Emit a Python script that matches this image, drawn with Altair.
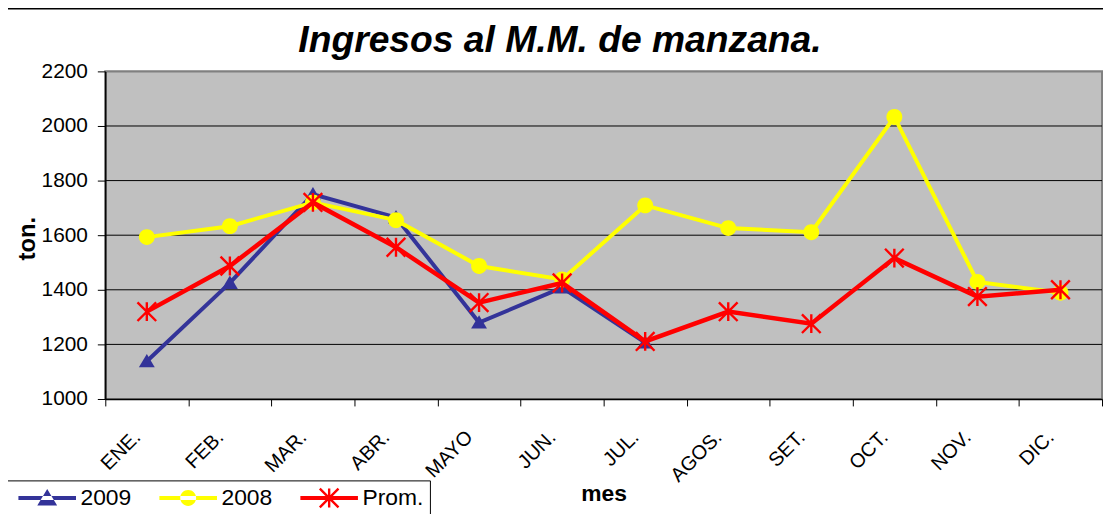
import math
import altair as alt
import pandas as pd

meses = ["ENE.", "FEB.", "MAR.", "ABR.", "MAYO", "JUN.", "JUL.", "AGOS.", "SET.", "OCT.", "NOV.", "DIC."]
v2009 = [1138, 1425, 1750, 1665, 1280, 1408, 1207]
v2008 = [1593, 1633, 1720, 1655, 1487, 1438, 1709, 1626, 1611, 2033, 1429, 1389]
prom = [1320, 1487, 1720, 1556, 1353, 1425, 1211, 1320, 1276, 1516, 1375, 1400]
series = ["2009", "2008", "Prom."]
y_ticks = [1000, 1200, 1400, 1600, 1800, 2000, 2200]
titulo = "Ingresos al M.M. de manzana."

colors = ["#333399", "#FFFF00", "#FF0000"]
widths = [4, 4, 4.5]
FONT = "Liberation Sans, Arial, sans-serif"

rows = []
for s, vals in zip(series, [v2009, v2008, prom]):
    for m, v in zip(meses, vals):
        rows.append({"mes": m, "serie": s, "valor": v})
df = pd.DataFrame(rows)
grid_df = pd.DataFrame({"valor": y_ticks[1:-1]})


# ---- symbol geometry (unit coords; 1 unit = sqrt(size)/2 px) ----
def fmt(v):
    return f"{v:.3f}"


def bar(angle_deg, half_len, half_th):
    a = math.radians(angle_deg)
    dx, dy = math.cos(a), math.sin(a)
    nx, ny = -dy, dx
    pts = [
        (half_len * dx + half_th * nx, half_len * dy + half_th * ny),
        (half_len * dx - half_th * nx, half_len * dy - half_th * ny),
        (-half_len * dx - half_th * nx, -half_len * dy - half_th * ny),
        (-half_len * dx + half_th * nx, -half_len * dy + half_th * ny),
    ]
    return "M" + "L".join(f"{fmt(x)},{fmt(y)}" for x, y in pts) + "Z"


def triangle(hw, top, bottom):
    return f"M0,{fmt(-top)}L{fmt(hw)},{fmt(bottom)}L{fmt(-hw)},{fmt(bottom)}Z"


def circle(r):
    return (f"M{fmt(-r)},0A{fmt(r)},{fmt(r)} 0 1,1 {fmt(r)},0"
            f"A{fmt(r)},{fmt(r)} 0 1,1 {fmt(-r)},0Z")


def asterisk(hl, th):
    return bar(90, hl, th) + bar(45, hl * 1.4, th) + bar(-45, hl * 1.4, th)


# chart markers: size 400 -> 10 px per unit
pt_shapes = [triangle(0.8, 0.74, 0.6), circle(0.8), asterisk(0.95, 0.12)]
# legend markers: symbolSize 400 -> 10 px per unit, line spans 58 px
lline = bar(0, 2.9, 0.2)
leg_shapes = [
    lline + triangle(1.0, 0.9, 0.75),
    lline + circle(0.8),
    lline + asterisk(0.95, 0.12),
]

x_enc = alt.X(
    "mes:N",
    sort=meses,
    scale=alt.Scale(type="band", domain=meses, paddingInner=0, paddingOuter=0),
    axis=alt.Axis(
        title="mes", titleFont=FONT, titleFontSize=23, titleFontWeight="bold",
        titleColor="black", titleX=502, titleY=102, titleBaseline="alphabetic",
        titleAlign="center",
        labelAngle=-45, labelAlign="right", labelBaseline="middle",
        labelFont=FONT, labelFontSize=20, labelColor="black",
        labelPadding=28, labelOffset=-10,
        tickBand="extent", tickColor="black", tickSize=7, domainColor="black",
        domainWidth=1.5, grid=False, zindex=1,
    ),
)
y_enc = alt.Y(
    "valor:Q",
    scale=alt.Scale(domain=[1000, 2200], nice=False, zero=False),
    axis=alt.Axis(
        values=y_ticks, format="d",
        title="ton.", titleFont=FONT, titleFontSize=24,
        titleFontWeight="bold", titleColor="black", titleAngle=-90,
        titleX=-71, titleY=168, titleBaseline="alphabetic", titleAlign="center",
        labelFont=FONT, labelFontSize=21, labelColor="black", labelPadding=10,
        tickColor="black", tickSize=8, domainColor="black", domainWidth=1.5,
        grid=False, zindex=1,
    ),
)

base = alt.Chart(df).encode(x=x_enc, y=y_enc)

one = alt.Data(values=[{}])
# plot-area background
bg = alt.Chart(one).mark_rect(
    color="#C0C0C0", stroke="#808080", strokeWidth=2
).encode(x=alt.value(0), x2=alt.value(1004), y=alt.value(0), y2=alt.value(330))
# horizontal gridlines at the tick values
grid = alt.Chart(grid_df).mark_rule(color="black", strokeWidth=1).encode(y=y_enc)
# outer chart frame
frame = alt.Chart(one).mark_rect(
    filled=False, stroke="black", strokeWidth=1.5
).encode(
    x=alt.value(-100), x2=alt.value(1300), y=alt.value(-63), y2=alt.value(700)
)
title_txt = alt.Chart(one).mark_text(
    text=titulo, font=FONT, fontSize=37.5, fontStyle="italic", fontWeight="bold",
    color="black", align="center", baseline="alphabetic",
).encode(x=alt.value(458), y=alt.value(-20))

layers = [bg, grid, frame, title_txt]
for s, c, w, shp in zip(series, colors, widths, pt_shapes):
    sub = base.transform_filter(alt.datum.serie == s)
    layers.append(sub.mark_line(color=c, strokeWidth=w))
    layers.append(sub.mark_point(filled=True, shape=shp, size=400, color=c, opacity=1))

leg = alt.Legend(
    orient="none", legendX=-101, legendY=412, direction="horizontal",
    title=None, strokeColor="black", fillColor="white", padding=6,
    labelFont=FONT, labelFontSize=23, labelColor="black",
    symbolSize=400, symbolOffset=25, labelOffset=22, columnPadding=20,
    symbolStrokeWidth=0, symbolOpacity=1,
)
legend_layer = alt.Chart(df).transform_filter("false").mark_point(
    filled=True, size=400, opacity=1
).encode(
    color=alt.Color("serie:N", scale=alt.Scale(domain=series, range=colors), legend=leg),
    shape=alt.Shape("serie:N", scale=alt.Scale(domain=series, range=leg_shapes), legend=leg),
)
layers.append(legend_layer)

chart = alt.layer(*layers).properties(
    width=1004,
    height=330,
    autosize=alt.AutoSizeParams(type="none"),
    padding={"left": 98, "top": 62, "right": 1, "bottom": 114},
).configure_view(
    fill="#C0C0C0", stroke="#808080", strokeWidth=2
)

chart.save("out.html", embed_options={"renderer": "svg", "actions": False})
